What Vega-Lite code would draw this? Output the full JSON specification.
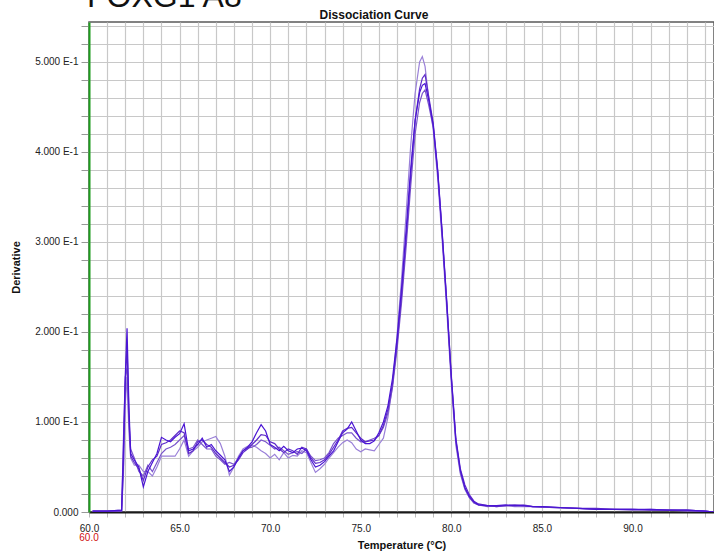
{
  "$schema": "https://vega.github.io/schema/vega-lite/v6.json",
  "width": 625,
  "height": 490,
  "autosize": {"type": "none"},
  "padding": {"left": 89, "top": 22, "right": 0, "bottom": 43},
  "background": "white",
  "config": {"view": {"stroke": "#5a5a5a", "strokeWidth": 1.5}, "font": "Liberation Sans"},
  "encoding": {
    "x": {
      "field": "t", "type": "quantitative",
      "scale": {"domain": [60, 94.5], "nice": false, "zero": false},
      "axis": {
        "values": [60,61,62,63,64,65,66,67,68,69,70,71,72,73,74,75,76,77,78,79,80,81,82,83,84,85,86,87,88,89,90,91,92,93,94],
        "labelExpr": "datum.value % 5 === 0 ? format(datum.value, '.1f') : ''",
        "grid": true, "gridColor": "#c8c8c8", "gridWidth": 1.2,
        "domainColor": "#1a1a1a", "domainWidth": 2,
        "tickColor": "#bbbbbb", "tickSize": 5,
        "labelFont": "Liberation Sans", "labelFontSize": 10, "labelColor": "#222222", "labelPadding": 6,
        "labelOverlap": false, "labelFlush": false,
        "title": "Temperature (°C)", "titleFont": "Liberation Sans", "titleFontSize": 11, "titleFontWeight": "bold", "titleColor": "#111111", "titlePadding": 6
      }
    },
    "y": {
      "field": "v", "type": "quantitative",
      "scale": {"domain": [0, 0.5444], "nice": false},
      "axis": {
        "values": [0,0.02,0.04,0.06,0.08,0.1,0.12,0.14,0.16,0.18,0.2,0.22,0.24,0.26,0.28,0.3,0.32,0.34,0.36,0.38,0.4,0.42,0.44,0.46,0.48,0.5,0.52,0.54],
        "labelExpr": "datum.value === 0 ? '0.000' : (round(datum.value*100) % 10 === 0 ? format(datum.value*10, '.3f') + ' E-1' : '')",
        "grid": true, "gridColor": "#c8c8c8", "gridWidth": 1.2,
        "domainColor": "#1e9e1e", "domainWidth": 2,
        "tickColor": "#999999", "tickSize": 8,
        "labelFont": "Liberation Sans", "labelFontSize": 10, "labelColor": "#222222", "labelPadding": 3,
        "labelOverlap": false, "labelFlush": false,
        "title": "Derivative", "titleFont": "Liberation Sans", "titleFontSize": 11, "titleFontWeight": "bold", "titleColor": "#111111", "titlePadding": 13
      }
    }
  },
  "layer": [
    {
      "data": {"values": [
        {"t":60.2,"A":0.001,"B":0.001,"C":0.001,"L":0.001},
        {"t":61.0,"A":0.001,"B":0.001,"C":0.001,"L":0.001},
        {"t":61.8,"A":0.002,"B":0.001,"C":0.002,"L":0.001},
        {"t":61.9,"A":0.07,"B":0.05,"C":0.08,"L":0.04},
        {"t":62.0,"A":0.15,"B":0.14,"C":0.15,"L":0.12},
        {"t":62.1,"A":0.204,"B":0.185,"C":0.16,"L":0.15},
        {"t":62.2,"A":0.12,"B":0.11,"C":0.1,"L":0.09},
        {"t":62.3,"A":0.065,"B":0.062,"C":0.07,"L":0.06},
        {"t":62.5,"A":0.058,"B":0.055,"C":0.06,"L":0.052},
        {"t":62.75,"A":0.05,"B":0.048,"C":0.045,"L":0.052},
        {"t":63.0,"A":0.028,"B":0.035,"C":0.04,"L":0.045},
        {"t":63.25,"A":0.045,"B":0.05,"C":0.052,"L":0.045},
        {"t":63.5,"A":0.055,"B":0.058,"C":0.045,"L":0.04},
        {"t":63.75,"A":0.065,"B":0.062,"C":0.055,"L":0.05},
        {"t":64.0,"A":0.083,"B":0.075,"C":0.065,"L":0.062},
        {"t":64.25,"A":0.08,"B":0.077,"C":0.07,"L":0.062},
        {"t":64.5,"A":0.078,"B":0.08,"C":0.072,"L":0.062},
        {"t":64.75,"A":0.083,"B":0.085,"C":0.075,"L":0.062},
        {"t":65.0,"A":0.087,"B":0.09,"C":0.08,"L":0.07},
        {"t":65.25,"A":0.098,"B":0.088,"C":0.085,"L":0.08},
        {"t":65.5,"A":0.068,"B":0.065,"C":0.07,"L":0.062},
        {"t":65.75,"A":0.07,"B":0.068,"C":0.072,"L":0.068},
        {"t":66.0,"A":0.075,"B":0.078,"C":0.08,"L":0.072},
        {"t":66.25,"A":0.082,"B":0.08,"C":0.075,"L":0.078},
        {"t":66.5,"A":0.072,"B":0.075,"C":0.07,"L":0.08},
        {"t":66.75,"A":0.075,"B":0.072,"C":0.07,"L":0.082},
        {"t":67.0,"A":0.068,"B":0.065,"C":0.062,"L":0.084},
        {"t":67.25,"A":0.063,"B":0.06,"C":0.058,"L":0.076},
        {"t":67.5,"A":0.058,"B":0.055,"C":0.053,"L":0.062},
        {"t":67.75,"A":0.045,"B":0.05,"C":0.055,"L":0.041},
        {"t":68.0,"A":0.05,"B":0.052,"C":0.053,"L":0.05},
        {"t":68.25,"A":0.06,"B":0.058,"C":0.06,"L":0.062},
        {"t":68.5,"A":0.068,"B":0.066,"C":0.068,"L":0.07},
        {"t":68.75,"A":0.072,"B":0.07,"C":0.071,"L":0.073},
        {"t":69.0,"A":0.078,"B":0.075,"C":0.072,"L":0.074},
        {"t":69.25,"A":0.088,"B":0.08,"C":0.075,"L":0.072},
        {"t":69.5,"A":0.097,"B":0.086,"C":0.08,"L":0.068},
        {"t":69.75,"A":0.09,"B":0.085,"C":0.078,"L":0.065},
        {"t":70.0,"A":0.075,"B":0.078,"C":0.074,"L":0.06},
        {"t":70.25,"A":0.072,"B":0.076,"C":0.07,"L":0.064},
        {"t":70.5,"A":0.068,"B":0.07,"C":0.072,"L":0.058},
        {"t":70.75,"A":0.073,"B":0.066,"C":0.068,"L":0.066},
        {"t":71.0,"A":0.068,"B":0.07,"C":0.064,"L":0.06},
        {"t":71.25,"A":0.066,"B":0.068,"C":0.066,"L":0.063},
        {"t":71.5,"A":0.07,"B":0.064,"C":0.067,"L":0.062},
        {"t":71.75,"A":0.071,"B":0.072,"C":0.065,"L":0.068},
        {"t":72.0,"A":0.068,"B":0.07,"C":0.07,"L":0.066},
        {"t":72.25,"A":0.058,"B":0.06,"C":0.062,"L":0.055},
        {"t":72.5,"A":0.05,"B":0.054,"C":0.057,"L":0.044},
        {"t":72.75,"A":0.052,"B":0.055,"C":0.058,"L":0.048},
        {"t":73.0,"A":0.056,"B":0.058,"C":0.06,"L":0.053},
        {"t":73.25,"A":0.062,"B":0.064,"C":0.066,"L":0.06},
        {"t":73.5,"A":0.068,"B":0.072,"C":0.076,"L":0.066},
        {"t":73.75,"A":0.078,"B":0.08,"C":0.082,"L":0.072},
        {"t":74.0,"A":0.088,"B":0.09,"C":0.085,"L":0.077},
        {"t":74.25,"A":0.092,"B":0.093,"C":0.088,"L":0.08},
        {"t":74.5,"A":0.1,"B":0.094,"C":0.088,"L":0.077},
        {"t":74.75,"A":0.09,"B":0.088,"C":0.082,"L":0.07},
        {"t":75.0,"A":0.08,"B":0.082,"C":0.078,"L":0.067},
        {"t":75.25,"A":0.076,"B":0.078,"C":0.078,"L":0.07},
        {"t":75.5,"A":0.076,"B":0.079,"C":0.08,"L":0.069},
        {"t":75.75,"A":0.079,"B":0.08,"C":0.082,"L":0.068},
        {"t":76.0,"A":0.088,"B":0.085,"C":0.085,"L":0.075},
        {"t":76.25,"A":0.1,"B":0.096,"C":0.094,"L":0.082},
        {"t":76.5,"A":0.118,"B":0.114,"C":0.11,"L":0.105},
        {"t":76.75,"A":0.148,"B":0.142,"C":0.138,"L":0.14},
        {"t":77.0,"A":0.192,"B":0.186,"C":0.18,"L":0.195},
        {"t":77.25,"A":0.248,"B":0.24,"C":0.232,"L":0.258},
        {"t":77.5,"A":0.312,"B":0.303,"C":0.293,"L":0.33},
        {"t":77.75,"A":0.38,"B":0.372,"C":0.36,"L":0.405},
        {"t":78.0,"A":0.435,"B":0.435,"C":0.42,"L":0.465},
        {"t":78.25,"A":0.466,"B":0.47,"C":0.455,"L":0.5},
        {"t":78.4,"A":0.474,"B":0.482,"C":0.465,"L":0.506},
        {"t":78.55,"A":0.476,"B":0.486,"C":0.469,"L":0.495},
        {"t":78.75,"A":0.458,"B":0.462,"C":0.452,"L":0.46},
        {"t":79.0,"A":0.43,"B":0.432,"C":0.428,"L":0.425},
        {"t":79.25,"A":0.378,"B":0.38,"C":0.376,"L":0.37},
        {"t":79.5,"A":0.308,"B":0.31,"C":0.306,"L":0.3},
        {"t":79.75,"A":0.232,"B":0.234,"C":0.23,"L":0.224},
        {"t":80.0,"A":0.15,"B":0.152,"C":0.148,"L":0.142},
        {"t":80.25,"A":0.08,"B":0.082,"C":0.078,"L":0.074},
        {"t":80.5,"A":0.046,"B":0.048,"C":0.044,"L":0.042},
        {"t":80.75,"A":0.027,"B":0.03,"C":0.026,"L":0.025},
        {"t":81.0,"A":0.017,"B":0.019,"C":0.016,"L":0.016},
        {"t":81.25,"A":0.011,"B":0.012,"C":0.01,"L":0.01},
        {"t":81.5,"A":0.008,"B":0.009,"C":0.008,"L":0.008},
        {"t":82.0,"A":0.007,"B":0.007,"C":0.006,"L":0.007},
        {"t":82.5,"A":0.007,"B":0.006,"C":0.007,"L":0.006},
        {"t":83.0,"A":0.008,"B":0.007,"C":0.007,"L":0.007},
        {"t":83.5,"A":0.007,"B":0.008,"C":0.007,"L":0.006},
        {"t":84.0,"A":0.007,"B":0.007,"C":0.008,"L":0.006},
        {"t":84.5,"A":0.006,"B":0.006,"C":0.006,"L":0.006},
        {"t":85.0,"A":0.006,"B":0.006,"C":0.005,"L":0.006},
        {"t":86.0,"A":0.005,"B":0.005,"C":0.005,"L":0.004},
        {"t":87.0,"A":0.004,"B":0.004,"C":0.004,"L":0.004},
        {"t":88.0,"A":0.003,"B":0.004,"C":0.003,"L":0.003},
        {"t":89.0,"A":0.003,"B":0.003,"C":0.003,"L":0.003},
        {"t":90.0,"A":0.003,"B":0.003,"C":0.002,"L":0.003},
        {"t":91.0,"A":0.003,"B":0.002,"C":0.003,"L":0.002},
        {"t":92.0,"A":0.002,"B":0.002,"C":0.002,"L":0.002},
        {"t":93.0,"A":0.002,"B":0.002,"C":0.001,"L":0.002},
        {"t":94.0,"A":0.001,"B":0.001,"C":0.001,"L":0.001},
        {"t":94.5,"A":0.0,"B":0.0,"C":0.0,"L":0.0}
      ]},
      "transform": [{"fold": ["L", "C", "B", "A"], "as": ["series", "v"]}],
      "mark": {"type": "line", "strokeWidth": 1.2, "clip": true},
      "encoding": {
        "color": {"field": "series", "type": "nominal", "scale": {"domain": ["A", "B", "C", "L"], "range": ["#4a14d4", "#5e2bc9", "#7a55cc", "#9a80d8"]}, "legend": null}
      }
    },
    {
      "data": {"values": [{"t": 60, "v": 0, "label": "60.0"}]},
      "mark": {"type": "text", "color": "#d01010", "font": "Liberation Sans", "fontSize": 10, "dy": 26, "align": "center", "baseline": "middle"},
      "encoding": {"text": {"field": "label"}}
    },
    {
      "data": {"values": [{"t": 60, "v": 0.5444, "label": "FOXG1 A8"}]},
      "mark": {"type": "text", "color": "#111111", "font": "Liberation Sans", "fontSize": 32, "align": "left", "baseline": "alphabetic", "dx": -2, "dy": -15},
      "encoding": {"text": {"field": "label"}}
    },
    {
      "data": {"values": [{"t": 75.73, "v": 0.5444, "label": "Dissociation Curve"}]},
      "mark": {"type": "text", "color": "#111111", "font": "Liberation Sans", "fontSize": 12, "fontWeight": "bold", "align": "center", "baseline": "alphabetic", "dy": -3},
      "encoding": {"text": {"field": "label"}}
    }
  ]
}
